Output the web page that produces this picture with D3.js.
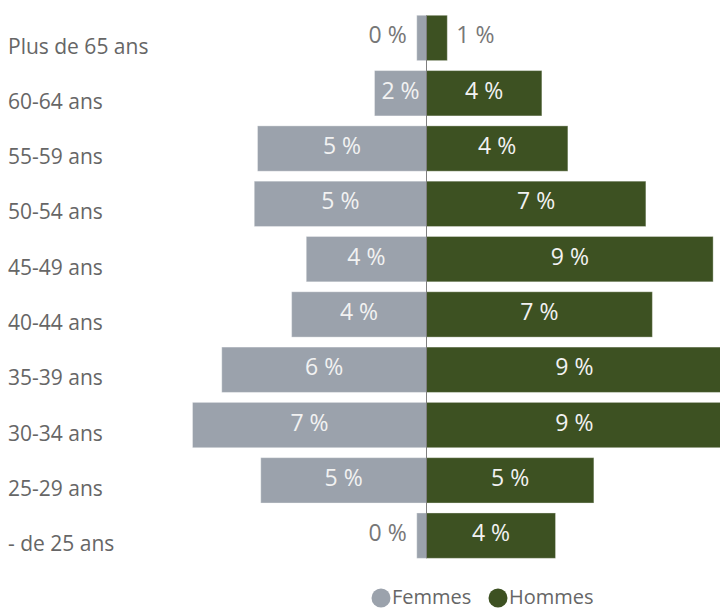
<!DOCTYPE html>
<html>
<head>
<meta charset="utf-8">
<script src="https://cdn.jsdelivr.net/npm/d3@7"></script>
<style>
  body { margin: 0; background: #fff; }
  text { font-family: "Segoe UI", "Open Sans", sans-serif; }
</style>
</head>
<body>
<div id="canvas"></div>
<script>
// age groups, top to bottom
const categories = ["Plus de 65 ans", "60-64 ans", "55-59 ans", "50-54 ans", "45-49 ans",
    "40-44 ans", "35-39 ans", "30-34 ans", "25-29 ans", "- de 25 ans"];
// share in %
const femmes = [0.3, 1.6, 5.2, 5.3, 3.7, 4.15, 6.3, 7.2, 5.1, 0.3];
const hommes = [0.64, 3.55, 4.35, 6.75, 8.82, 6.95, 9.1, 9.1, 5.15, 3.97];
const seriesNames = ["Femmes", "Hommes"];
const colors = ["#9ba2ac", "#3d5122"];

const width = 720;
const height = 610;
const cx = 426.5;

const svg = d3.select("#canvas").append("svg")
    .attr("width", width)
    .attr("height", height);

const y = d3.scaleBand()
    .domain(categories)
    .range([10.3, 563.3])
    .paddingInner(0.18)
    .paddingOuter(0.09);

const x = d3.scaleLinear()
    .domain([0, 10])
    .range([0, 325]);

const rows = categories.map((c, i) => ({ cat: c, f: femmes[i], h: hommes[i] }));

// femmes bars (left)
svg.selectAll("rect.f").data(rows).enter().append("rect")
    .attr("class", "f")
    .attr("x", d => cx - x(d.f))
    .attr("y", d => y(d.cat))
    .attr("width", d => x(d.f))
    .attr("height", y.bandwidth())
    .attr("fill", colors[0])
    .attr("stroke", "rgba(255,255,255,0.35)");

// hommes bars (right)
svg.selectAll("rect.h").data(rows).enter().append("rect")
    .attr("class", "h")
    .attr("x", cx)
    .attr("y", d => y(d.cat))
    .attr("width", d => x(d.h))
    .attr("height", y.bandwidth())
    .attr("fill", colors[1])
    .attr("stroke", "rgba(255,255,255,0.35)");

// center axis line
svg.append("line")
    .attr("x1", cx).attr("x2", cx)
    .attr("y1", y(categories[0]))
    .attr("y2", y(categories[categories.length - 1]) + y.bandwidth())
    .attr("stroke", "#7f7f7f")
    .attr("stroke-width", 1);

// category labels
svg.selectAll("text.cat").data(rows).enter().append("text")
    .attr("class", "cat")
    .attr("x", 8)
    .attr("y", d => y(d.cat) + y.bandwidth() / 2 + 15.6)
    .attr("fill", "#666")
    .style("font-size", "21px")
    .text(d => d.cat);

// value labels
const fmt = v => Math.round(v) + " %";
const minInside = 40;

svg.selectAll("text.fl").data(rows).enter().append("text")
    .attr("class", "fl")
    .attr("x", d => x(d.f) >= minInside ? cx - x(d.f) / 2 : cx - x(d.f) - 10)
    .attr("y", d => y(d.cat) + y.bandwidth() / 2 + 5.5)
    .attr("text-anchor", d => x(d.f) >= minInside ? "middle" : "end")
    .attr("fill", d => x(d.f) >= minInside ? "#f2f2f2" : "#777")
    .style("font-size", "23px")
    .text(d => fmt(d.f));

svg.selectAll("text.hl").data(rows).enter().append("text")
    .attr("class", "hl")
    .attr("x", d => x(d.h) >= minInside ? cx + x(d.h) / 2 : cx + x(d.h) + 9)
    .attr("y", d => y(d.cat) + y.bandwidth() / 2 + 5.5)
    .attr("text-anchor", d => x(d.h) >= minInside ? "middle" : "start")
    .attr("fill", d => x(d.h) >= minInside ? "#f2f2f2" : "#777")
    .style("font-size", "23px")
    .text(d => fmt(d.h));

// legend
const legend = svg.append("g");
const legendX = [381, 498];
seriesNames.forEach((name, i) => {
    legend.append("circle")
        .attr("cx", legendX[i])
        .attr("cy", 598)
        .attr("r", 9.5)
        .attr("fill", colors[i]);
    legend.append("text")
        .attr("x", legendX[i] + 11)
        .attr("y", 604)
        .attr("fill", "#666")
        .style("font-size", "20px")
        .text(name);
});
</script>
</body>
</html>
